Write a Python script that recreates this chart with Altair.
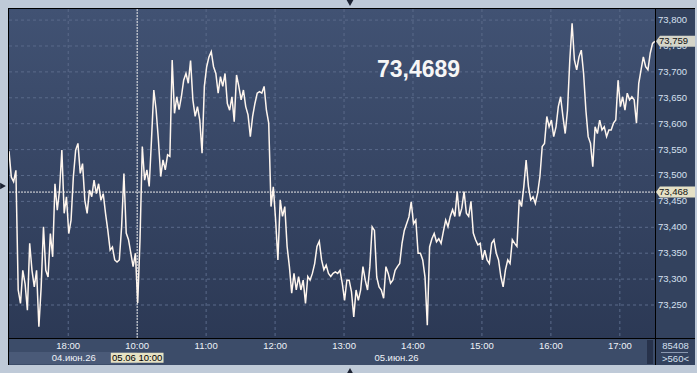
import altair as alt
import pandas as pd

# ---------------- data ----------------
prices = [
    73.547, 73.497, 73.488, 73.510, 73.279, 73.253, 73.317, 73.291, 73.240, 73.369,
    73.317, 73.285, 73.317, 73.208, 73.285, 73.401, 73.317, 73.304, 73.388, 73.343,
    73.484, 73.433, 73.472, 73.549, 73.427, 73.459, 73.388, 73.414, 73.497, 73.549,
    73.562, 73.504, 73.523, 73.452, 73.427, 73.472, 73.459, 73.491, 73.465, 73.484,
    73.452, 73.465, 73.427, 73.394, 73.356, 73.362, 73.337, 73.333,
    73.337, 73.401, 73.504, 73.389, 73.376, 73.350, 73.324, 73.350, 73.254, 73.376,
    73.556, 73.491, 73.511, 73.479, 73.569, 73.665, 73.627, 73.569, 73.498, 73.530,
    73.511, 73.540, 73.537, 73.723, 73.620, 73.652, 73.627, 73.652, 73.684, 73.697,
    73.678, 73.722, 73.646, 73.614, 73.633, 73.607, 73.543, 73.672, 73.710, 73.729,
    73.739, 73.710, 73.697, 73.659, 73.691, 73.672, 73.697,
    73.639, 73.626, 73.652, 73.604, 73.694, 73.672, 73.646, 73.665, 73.633, 73.617,
    73.575, 73.614, 73.639, 73.659, 73.662, 73.659, 73.672, 73.626, 73.601, 73.440,
    73.478, 73.414, 73.337, 73.453, 73.421, 73.440, 73.363, 73.324, 73.273, 73.311,
    73.279, 73.305, 73.279, 73.298, 73.253, 73.305, 73.298, 73.311, 73.330, 73.363,
    73.373, 73.337, 73.318, 73.327, 73.311, 73.305, 73.311,
    73.314, 73.311, 73.317, 73.292, 73.259, 73.298, 73.298, 73.276, 73.227, 73.279,
    73.259, 73.279, 73.324, 73.298, 73.279, 73.324, 73.401, 73.394, 73.304, 73.285,
    73.279, 73.263, 73.324, 73.311, 73.292, 73.298, 73.317, 73.324, 73.330, 73.369,
    73.394, 73.407, 73.420, 73.449, 73.407, 73.414, 73.350, 73.350, 73.337, 73.304,
    73.211, 73.362, 73.378, 73.388, 73.372, 73.378, 73.369,
    73.392, 73.414, 73.401, 73.421, 73.434, 73.421, 73.469, 73.421, 73.437, 73.469,
    73.427, 73.421, 73.450, 73.389, 73.376, 73.366, 73.369, 73.337, 73.356, 73.337,
    73.330, 73.369, 73.376, 73.350, 73.337, 73.305, 73.285, 73.318, 73.337, 73.330,
    73.376, 73.369, 73.363, 73.453, 73.440, 73.479, 73.530, 73.479, 73.453, 73.459,
    73.446, 73.466, 73.498, 73.556, 73.562, 73.614, 73.594,
    73.607, 73.575, 73.594, 73.633, 73.652, 73.614, 73.581, 73.626, 73.723, 73.794,
    73.723, 73.704, 73.729, 73.742, 73.697, 73.626, 73.575, 73.562, 73.517, 73.594,
    73.581, 73.607, 73.588, 73.594, 73.575, 73.588, 73.588, 73.601, 73.607, 73.684,
    73.633, 73.652, 73.626, 73.659, 73.646, 73.652, 73.646, 73.601, 73.678, 73.704,
    73.729, 73.710, 73.704, 73.736, 73.755, 73.759,
]
start_t = 0.141          # first sample, in axis-hour units (18:00 = 1)
step_t = 1 / 30          # two-minute samples
times = [start_t + i * step_t for i in range(len(prices))]

hour_pos = [1, 2, 3, 4, 5, 6, 7, 8, 9]
hour_labels = ["18:00", "10:00", "11:00", "12:00", "13:00", "14:00", "15:00", "16:00", "17:00"]
price_ticks = [73.25, 73.30, 73.35, 73.40, 73.45, 73.50, 73.55, 73.60, 73.65, 73.70, 73.75, 73.80]
price_labels = ["73,250", "73,300", "73,350", "73,400", "73,450", "73,500",
                "73,550", "73,600", "73,650", "73,700", "73,750", "73,800"]
date_pos = [1.08, 5.76]
date_labels = ["04.июн.26", "05.июн.26"]

cursor_t = 2
cursor_price = 73.468
cursor_time_label = "05.06 10:00"
cursor_price_label = "73,468"
last_price = 73.759
last_price_label = "73,759"
headline = "73,4689"
volume_label = "85408"
range_label = ">560<"

# ---------------- layout ----------------
W, H = 646, 329
FONT = "Liberation Sans"
xs = alt.Scale(domain=[0.141, 9.51], nice=False, zero=False)
ys = alt.Scale(domain=[73.1863, 73.8214], nice=False, zero=False)

one = pd.DataFrame({"k": [0]})
line_df = pd.DataFrame({"t": times, "p": prices})
hours_df = pd.DataFrame({"t": hour_pos, "lab": hour_labels})
ticks_df = pd.DataFrame({"p": price_ticks, "lab": price_labels})
dates_df = pd.DataFrame({"t": date_pos, "lab": date_labels})
cursor_df = pd.DataFrame({"t": [cursor_t], "p": [cursor_price],
                          "tl": [cursor_time_label], "pl": [cursor_price_label], "a": [start_t]})
last_df = pd.DataFrame({"p": [last_price], "pl": [last_price_label]})

frame = alt.Chart(one).mark_rect(color="#33425e").encode(
    x=alt.value(-1), x2=alt.value(686), y=alt.value(-1), y2=alt.value(356))
bottom_band = alt.Chart(one).mark_rect(color="#3c4c69").encode(
    x=alt.value(0), x2=alt.value(W), y=alt.value(330), y2=alt.value(356))
date_band = alt.Chart(cursor_df).mark_rect(color="#4a5a78").encode(
    x=alt.X("a:Q", scale=xs, axis=None), x2="t", y=alt.value(343), y2=alt.value(355))
dark_bar = alt.Chart(one).mark_rect(color="#27324b").encode(
    x=alt.value(638), x2=alt.value(644), y=alt.value(331), y2=alt.value(355))

plot_bg = alt.Chart(one).mark_rect(
    color=alt.LinearGradient(
        gradient="linear",
        stops=[alt.GradientStop(color="#415273", offset=0),
               alt.GradientStop(color="#2c3955", offset=1)],
        x1=0, x2=0, y1=0, y2=1)
).encode(x=alt.value(0), x2=alt.value(W), y=alt.value(0), y2=alt.value(H))

grid_h = alt.Chart(ticks_df).mark_rule(color="#5a6a8a", strokeDash=[3, 3], strokeWidth=1).encode(
    y=alt.Y("p:Q", scale=ys, axis=None), x=alt.value(0), x2=alt.value(W))
grid_v = alt.Chart(hours_df).mark_rule(color="#5a6a8a", strokeDash=[3, 3], strokeWidth=1).encode(
    x=alt.X("t:Q", scale=xs, axis=None), y=alt.value(0), y2=alt.value(H))

cross_h = alt.Chart(cursor_df).mark_rule(color="#e6e6e6", strokeDash=[2, 1], strokeWidth=1).encode(
    y=alt.Y("p:Q", scale=ys, axis=None), x=alt.value(0), x2=alt.value(W))
cross_v = alt.Chart(cursor_df).mark_rule(color="#e6e6e6", strokeDash=[2, 1], strokeWidth=1).encode(
    x=alt.X("t:Q", scale=xs, axis=None), y=alt.value(0), y2=alt.value(H))

line = alt.Chart(line_df).mark_line(color="#fff6ee", strokeWidth=1.5, clip=True).encode(
    x=alt.X("t:Q", scale=xs, axis=None), y=alt.Y("p:Q", scale=ys, axis=None))

borders = alt.layer(
    alt.Chart(one).mark_rule(color="#000000", strokeWidth=1).encode(
        x=alt.value(W + 0.5), y=alt.value(-1), y2=alt.value(356)),
    alt.Chart(one).mark_rule(color="#000000", strokeWidth=1).encode(
        y=alt.value(H + 0.5), x=alt.value(-1), x2=alt.value(686)),
    alt.Chart(one).mark_rule(color="#000000", strokeWidth=1).encode(
        y=alt.value(-0.5), x=alt.value(-1), x2=alt.value(686)),
    alt.Chart(one).mark_rule(color="#000000", strokeWidth=1).encode(
        x=alt.value(-0.5), y=alt.value(-1), y2=alt.value(356)),
)

y_labels = alt.Chart(ticks_df).mark_text(
    align="left", baseline="middle", font=FONT, fontSize=9.5, color="#d6e0f0").encode(
    y=alt.Y("p:Q", scale=ys, axis=None), x=alt.value(649), text="lab:N")
x_labels = alt.Chart(hours_df).mark_text(
    align="center", baseline="middle", font=FONT, fontSize=9.5, color="#eef2f8").encode(
    x=alt.X("t:Q", scale=xs, axis=None), y=alt.value(337), text="lab:N")
d_labels = alt.Chart(dates_df).mark_text(
    align="center", baseline="middle", font=FONT, fontSize=9.5, color="#eef2f8").encode(
    x=alt.X("t:Q", scale=xs, axis=None), y=alt.value(349), text="lab:N")

ARROW = "M -1 0 L -0.8 -0.28 L 1 -0.28 L 1 0.28 L -0.8 0.28 Z"
BOX = "M -1 -0.19 L 1 -0.19 L 1 0.19 L -1 0.19 Z"
tag_last = alt.Chart(last_df).mark_point(shape=ARROW, filled=True, size=1521, opacity=1,
                                         color="#d5d5c9").encode(
    y=alt.Y("p:Q", scale=ys, axis=None), x=alt.value(666.5))
tag_last_t = alt.Chart(last_df).mark_text(align="left", baseline="middle", font=FONT,
                                          fontSize=9.5, color="#111111").encode(
    y=alt.Y("p:Q", scale=ys, axis=None), x=alt.value(650), text="pl:N")
tag_cur = alt.Chart(cursor_df).mark_point(shape=ARROW, filled=True, size=1521, opacity=1,
                                          color="#e5e1c6").encode(
    y=alt.Y("p:Q", scale=ys, axis=None), x=alt.value(666.5))
tag_cur_t = alt.Chart(cursor_df).mark_text(align="left", baseline="middle", font=FONT,
                                           fontSize=9.5, color="#111111").encode(
    y=alt.Y("p:Q", scale=ys, axis=None), x=alt.value(650), text="pl:N")
tag_time = alt.Chart(cursor_df).mark_point(shape=BOX, filled=True, size=2777, opacity=1,
                                           color="#e6e2c4").encode(
    x=alt.X("t:Q", scale=xs, axis=None), y=alt.value(348.7))
tag_time_t = alt.Chart(cursor_df).mark_text(align="center", baseline="middle", font=FONT,
                                            fontSize=9.5, color="#000000").encode(
    x=alt.X("t:Q", scale=xs, axis=None), y=alt.value(349), text="tl:N")

big = alt.Chart(one).mark_text(align="center", baseline="middle", font=FONT, fontSize=23,
                               fontWeight="bold", color="#f6f6f6", text=headline).encode(
    x=alt.value(409.5), y=alt.value(61))

corner = alt.layer(
    alt.Chart(one).mark_text(align="center", baseline="middle", font=FONT, fontSize=9.5,
                             color="#d6e0f0", text=volume_label).encode(
        x=alt.value(666.5), y=alt.value(337)),
    alt.Chart(one).mark_text(align="center", baseline="middle", font=FONT, fontSize=9.5,
                             color="#d6e0f0", text=range_label).encode(
        x=alt.value(666.5), y=alt.value(349.5)),
    alt.Chart(one).mark_rule(color="#8a98b0", strokeWidth=1).encode(
        x=alt.value(652), x2=alt.value(679), y=alt.value(343.5)),
)

tri = alt.layer(
    alt.Chart(one).mark_point(shape="triangle-down", filled=True, size=45, color="#1c2232",
                              opacity=1).encode(x=alt.value(341), y=alt.value(-6)),
    alt.Chart(one).mark_point(shape="triangle-up", filled=True, size=45, color="#1c2232",
                              opacity=1).encode(x=alt.value(341), y=alt.value(362)),
    alt.Chart(one).mark_point(shape="triangle-right", filled=True, size=45, color="#1c2232",
                              opacity=1).encode(x=alt.value(-6), y=alt.value(177)),
)

chart = alt.layer(
    frame, bottom_band, date_band, dark_bar, plot_bg, grid_h, grid_v, cross_h, cross_v, line,
    borders, y_labels, x_labels, d_labels, tag_last, tag_last_t, tag_cur, tag_cur_t,
    tag_time, tag_time_t, big, corner, tri,
).properties(
    width=W, height=H,
    autosize=alt.AutoSizeParams(type="none"),
    padding={"left": 9, "top": 9, "right": 42, "bottom": 35},
    background="#bfcad8",
).configure_view(stroke=None)

chart.save("out.html", embed_options={"renderer": "svg", "actions": False})
